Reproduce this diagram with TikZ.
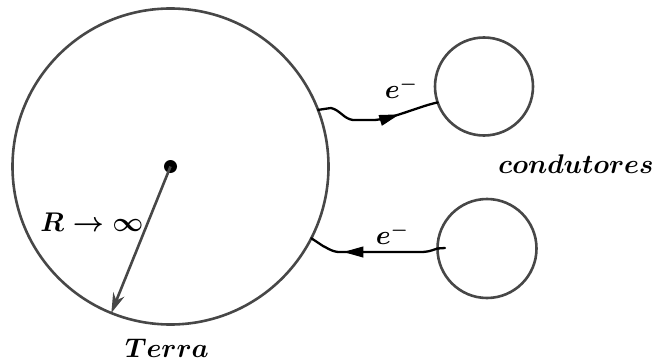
\RequirePackage{fix-cm}
\documentclass[tikz,border=0pt]{standalone}
\usetikzlibrary{arrows.meta,decorations.markings}
\begin{document}
\begin{tikzpicture}[x=1pt,y=-1pt,
  ball/.style={draw=black!72,line width=2.6pt,circle,inner sep=0pt,outer sep=0pt},
  wire/.style={draw=black,line width=2.3pt,line join=round,line cap=round},
  lbl/.style={inner sep=0pt,font=\fontsize{27}{29}\selectfont\boldmath},
  arrowat/.style={postaction={decorate},decoration={markings,mark=at position #1 with {\arrow[line width=1pt]{Triangle[length=20pt,width=11pt]}}}}]
\useasboundingbox (0,0) rectangle (656,361);
\node[ball,minimum size=316pt] (earth) at (170.5,166.5) {};
\node[ball,minimum size=98pt] (c1) at (484,86.5) {};
\node[ball,minimum size=99pt] (c2) at (487,248.5) {};
\node[circle,fill=black,inner sep=0pt,minimum size=13pt] (o) at (170.5,166.5) {};
\draw[draw=black!72,line width=2.6pt,-{Stealth[length=20pt,width=12pt]}] (o.center) -- (earth.248.6);
\draw[wire,arrowat=0.68] (earth.21.4) -- (331,108) .. controls (340,110) and (344,119) .. (353,120) -- (375,120) .. controls (395,118) and (420,106) .. (c1.199.3);
\coordinate (c2in) at (445,248);
\draw[wire,arrowat=0.74] (c2in) -- (c2.west) .. controls (430,251) and (428,252) .. (420,252) -- (338,252) .. controls (330,251) and (326,247) .. (323,246) -- (earth.-27.8);
\node[lbl] (e1) at (401,88) {$e^-$};
\node[lbl] (e2) at (392,234) {$e^-$};
\node[lbl] (r) at (92,222) {$R\to\infty$};
\node[lbl] (terra) at (167,348) {$Terra$};
\node[lbl] (cond) at (576,164) {$condutores$};
\end{tikzpicture}
\end{document}
